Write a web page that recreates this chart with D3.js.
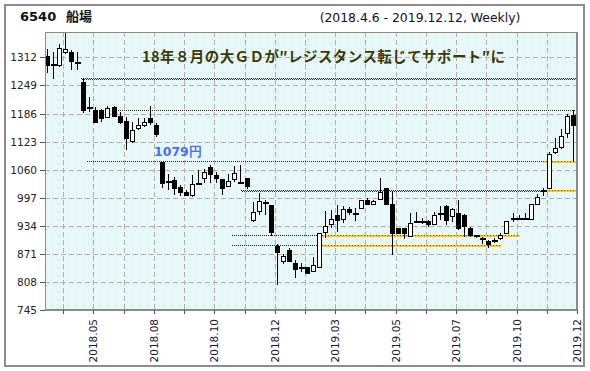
<!DOCTYPE html>
<html><head><meta charset="utf-8">
<script src="https://cdn.jsdelivr.net/npm/d3@7"></script>
<style>body{margin:0;background:#fff}svg{display:block}</style>
</head><body><svg id="c" width="590" height="371"></svg>
<script>
// ---- data (weekly candles, 2018.4.6 - 2019.12.12) ----
const weeks = d3.range(88);
const open  = [1316,1297,1296,1325,1323,1301,1257,1201,1195,1193,1179,1201,1180,1169,1124,1154,1161,1175,1161,1077,1032,1036,1020,1009,1003,1030,1042,1065,1048,1038,1023,1040,1032,1042,946,967,987,980,888,855,879,850,842,841,832,842,919,937,958,950,971,963,973,993,984,995,1018,982,928,928,912,945,945,944,937,963,978,956,962,959,929,913,907,900,897,907,917,952,952,951,949,982,1014,1019,1100,1111,1143,1182];
const high  = [1331,1324,1343,1372,1328,1325,1266,1223,1200,1197,1202,1203,1189,1178,1168,1177,1177,1202,1165,1078,1051,1044,1025,1014,1048,1059,1062,1070,1055,1040,1050,1069,1070,1042,987,1007,993,980,894,870,885,857,851,841,864,917,967,969,980,978,976,973,993,996,991,1041,1018,1012,929,929,963,964,952,947,965,978,980,973,993,960,931,914,909,902,906,918,944,962,959,962,982,1006,1018,1100,1130,1152,1186,1195];
const low   = [1277,1264,1290,1319,1283,1284,1188,1189,1165,1167,1177,1180,1162,1104,1119,1150,1156,1160,1133,1018,1014,1003,1000,1003,999,1029,1030,1030,1030,1004,1020,1032,1027,1016,942,958,958,910,801,848,853,816,831,828,830,841,907,928,920,941,958,945,973,982,984,993,982,868,915,905,911,942,937,932,937,947,935,943,924,909,909,906,894,885,895,902,917,943,947,949,949,981,1000,1018,1096,1107,1132,1077];
const close = [1296,1295,1334,1331,1304,1299,1193,1200,1167,1177,1199,1181,1168,1130,1149,1161,1166,1167,1139,1029,1035,1018,1010,1004,1027,1031,1055,1051,1042,1018,1035,1052,1031,1023,966,989,984,919,876,866,855,838,840,829,845,917,933,950,948,971,965,961,993,984,990,1010,984,918,917,917,941,943,944,937,958,960,947,971,929,933,913,909,902,893,902,913,944,949,949,950,982,999,1010,1096,1109,1135,1180,1161];

const yTickValues = [745,808,871,934,997,1060,1123,1186,1249,1312];
const xTickWeeks  = [2,7,12,17,22,27,32,37,42,47,52,57,62,67,72,77,82,87];
const xLabelWeeks = [7,17,27,37,47,57,67,77,87];
const xLabels     = ["2018.05","2018.08","2018.10","2018.12","2019.03","2019.05","2019.07","2019.10","2019.12"];

// support / resistance levels (value, from week, to week, week where highlight starts)
const levelValues     = [1265,1195,1079,1014,914,892];
const levelFrom       = [6,12,7,32.5,31,31];
const levelTo         = [88,88,88,88,78.6,75.5];
const levelHighlight  = [null,null,82.4,82.4,45.8,45.8];
const levelStrong     = [true,false,false,true,false,false];

const titleCode = "6540", titleName = "船場";
const subtitle = "(2018.4.6 - 2019.12.12, Weekly)";
const note = "18年８月の大ＧＤが″レジスタンス転じてサポート″に";
const priceNote = "1079円";

// ---- layout ----
const L = 45, R = 577, T = 32, B = 310;
const svg = d3.select("#c");
const defs = svg.append("defs");
const pat = defs.append("pattern").attr("id","bg").attr("width",2).attr("height",2).attr("patternUnits","userSpaceOnUse");
pat.append("rect").attr("width",2).attr("height",2).attr("fill","#ffffff");
pat.append("rect").attr("x",0).attr("y",0).attr("width",1).attr("height",1).attr("fill","#d2f6f8");
pat.append("rect").attr("x",1).attr("y",1).attr("width",1).attr("height",1).attr("fill","#d2f6f8");
defs.append("clipPath").attr("id","clip").append("rect").attr("x",L).attr("y",T).attr("width",R-L).attr("height",B-T);

const x = d3.scaleBand().domain(weeks).range([L,R]).padding(0);
const xAt = w => x.range()[0] + w * x.step();
const y = d3.scaleLinear().domain([745,1369]).range([B,T]);

// outer frame
svg.append("rect").attr("x",5).attr("y",5).attr("width",579).attr("height",361)
  .attr("fill","#fff").attr("stroke","#8c8c8c").attr("stroke-width",2);

// plot background
svg.append("rect").attr("x",L).attr("y",T).attr("width",R-L).attr("height",B-T).attr("fill","url(#bg)");

// grid
const grid = svg.append("g").attr("shape-rendering","crispEdges");
grid.selectAll(".hg").data(yTickValues).join("line")
  .attr("x1",L).attr("x2",R).attr("y1",d=>Math.round(y(d))+0.5).attr("y2",d=>Math.round(y(d))+0.5)
  .attr("stroke","#b0b0b0").attr("stroke-dasharray","5,3");
grid.selectAll(".vg").data(xTickWeeks).join("line")
  .attr("x1",d=>Math.round(xAt(d+1))+0.5).attr("x2",d=>Math.round(xAt(d+1))+0.5).attr("y1",T).attr("y2",B)
  .attr("stroke","#b0b0b0").attr("stroke-dasharray","5,3");

// levels
const lv = svg.append("g").attr("clip-path","url(#clip)").attr("shape-rendering","crispEdges");
levelValues.forEach((v,i)=>{
  const yy = Math.round(y(v));
  const x0 = xAt(levelFrom[i]), x1 = xAt(levelTo[i]);
  const hx = levelHighlight[i] != null ? xAt(levelHighlight[i]) : x1;
  if (levelStrong[i]) {
    lv.append("line").attr("x1",x0).attr("x2",x1).attr("y1",yy+0.5).attr("y2",yy+0.5)
      .attr("stroke","#2a2a2a").attr("stroke-dasharray","1,1");
    lv.append("line").attr("x1",x0+1).attr("x2",x1).attr("y1",yy+1.5).attr("y2",yy+1.5)
      .attr("stroke","#2a2a2a").attr("stroke-dasharray","1,1");
  } else {
    lv.append("line").attr("x1",x0).attr("x2",hx).attr("y1",yy+0.5).attr("y2",yy+0.5)
      .attr("stroke","#222").attr("stroke-dasharray","1,1");
  }
  if (levelHighlight[i] != null) {
    lv.append("rect").attr("x",hx).attr("y",yy).attr("width",x1-hx).attr("height",2).attr("fill","#ffcc00");
    lv.append("line").attr("x1",hx).attr("x2",x1).attr("y1",yy+0.5).attr("y2",yy+0.5)
      .attr("stroke","#6a5a00").attr("stroke-dasharray","1,2");
  }
});

// candles
const cg = svg.append("g").attr("clip-path","url(#clip)").attr("shape-rendering","crispEdges");
weeks.forEach(i=>{
  const cx = Math.round(x(i) + x.bandwidth()/2) - 1;
  const yh = Math.round(y(high[i])), yl = Math.round(y(low[i]));
  const yo = Math.round(y(open[i])), yc = Math.round(y(close[i]));
  cg.append("rect").attr("x",cx).attr("y",yh).attr("width",1).attr("height",Math.max(1,yl-yh)).attr("fill","#000");
  const top = Math.min(yo,yc), bot = Math.max(yo,yc);
  const h = bot-top;
  if (h < 3) {
    cg.append("rect").attr("x",cx-2).attr("y",top).attr("width",6).attr("height",2).attr("fill","#000");
  } else {
    cg.append("rect").attr("x",cx-2).attr("y",top).attr("width",5).attr("height",h+1).attr("fill","#000");
    if (close[i] > open[i]) {
      cg.append("rect").attr("x",cx-1).attr("y",top+1).attr("width",3).attr("height",h-1).attr("fill","#fff");
    }
  }
});

// plot border
const bd = svg.append("g").attr("shape-rendering","crispEdges");
bd.append("rect").attr("x",L+0.5).attr("y",T+0.5).attr("width",R-L-1).attr("height",B-T-1)
  .attr("fill","none").attr("stroke","#8a8a8a");
bd.append("line").attr("x1",R).attr("x2",R).attr("y1",T).attr("y2",B+1).attr("stroke","#8a8a8a").attr("stroke-width",2);
bd.append("line").attr("x1",L).attr("x2",R).attr("y1",B).attr("y2",B).attr("stroke","#8a8a8a").attr("stroke-width",2);

// y axis ticks & labels
const ya = svg.append("g");
ya.selectAll("line").data(yTickValues).join("line").attr("shape-rendering","crispEdges")
  .attr("x1",L-5).attr("x2",L).attr("y1",d=>Math.round(y(d))+0.5).attr("y2",d=>Math.round(y(d))+0.5).attr("stroke","#555");
ya.selectAll("text").data(yTickValues).join("text")
  .attr("x",L-8).attr("y",d=>y(d)+4).attr("text-anchor","end")
  .attr("font-family","DejaVu Sans").attr("font-size","10.5px").attr("fill","#222").text(d=>d);

// x axis ticks & labels
const xa = svg.append("g");
xa.selectAll("line").data(xTickWeeks).join("line").attr("shape-rendering","crispEdges")
  .attr("x1",d=>Math.round(xAt(d+1))+0.5).attr("x2",d=>Math.round(xAt(d+1))+0.5).attr("y1",B).attr("y2",B+4).attr("stroke","#555");
xa.selectAll("text").data(xLabelWeeks).join("text")
  .attr("transform",(d,i)=>`translate(${xAt(d+1)+4},${B+9}) rotate(-90)`)
  .attr("text-anchor","end")
  .attr("font-family","DejaVu Sans").attr("font-size","10.5px").attr("fill","#15153a")
  .text((d,i)=>xLabels[i]);

// titles
svg.append("text").attr("x",20).attr("y",21).attr("font-family","DejaVu Sans").attr("font-weight","bold")
  .attr("font-size","13px").attr("fill","#111").text(titleCode);
svg.append("text").attr("x",66).attr("y",21).attr("font-family","Noto Sans CJK JP").attr("font-weight","bold")
  .attr("font-size","13px").attr("fill","#111").text(titleName);
svg.append("text").attr("x",420).attr("y",22).attr("text-anchor","middle").attr("font-family","DejaVu Sans")
  .attr("font-size","12.4px").attr("fill","#101035").text(subtitle);
svg.append("text").attr("x",142).attr("y",62).attr("font-family","Noto Sans CJK JP").attr("font-weight","bold")
  .attr("font-size","14.5px").attr("fill","#3a3a08").attr("textLength",363).attr("lengthAdjust","spacing").text(note);
svg.append("text").attr("x",154).attr("y",156).attr("font-family","DejaVu Sans").attr("font-weight","bold")
  .attr("font-size","12.5px").attr("fill","#4a6cf0").text(priceNote);
</script></body></html>
